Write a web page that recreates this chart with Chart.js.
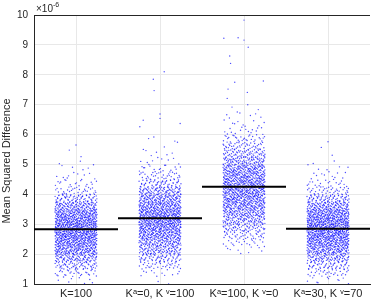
<!DOCTYPE html>
<html>
<head>
<meta charset="utf-8">
<script src="https://cdn.jsdelivr.net/npm/chart.js@4/dist/chart.umd.min.js"></script>
<style>
    html, body { margin: 0; padding: 0; background: #fff; }
</style>
</head>
<body>
<canvas id="grafica" width="374" height="303"></canvas>
<script>
// Categorias del eje x
const categorias = ['K=100', 'K\u1d43=0, K \u1d5b=100', 'K\u1d43=100, K \u1d5b=0', 'K\u1d43=30, K \u1d5b=70'];
// Media de cada grupo (linea negra)
const medias = [2.83, 3.2, 4.25, 2.85];
// Ticks del eje y (x10^-6)
const ticksY = [1, 2, 3, 4, 5, 6, 7, 8, 9, 10];

const anchoFranja = 0.25;
const inicioFranjas = 1.0;
const cuentas1 = [8, 30, 60, 90, 130, 150, 165, 165, 160, 140, 105, 65, 30, 18, 9, 5, 2];
const cuentas2 = [2, 12, 35, 60, 85, 105, 130, 145, 155, 150, 130, 110, 85, 55, 32, 18, 8, 5, 3, 3];
const cuentas3 = [0, 0, 0, 0, 8, 20, 40, 60, 85, 105, 120, 130, 135, 135, 125, 115, 85, 65, 45, 30, 15, 9, 6, 4];
const cuentas4 = [10, 30, 55, 85, 120, 145, 160, 165, 160, 145, 105, 70, 35, 20, 10, 6, 2];

// Puntos sueltos (valor y desplazamiento horizontal) leidos uno a uno
const sueltosY1 = [5.65, 5.48, 5.26];
const sueltosX1 = [0.0, -0.08, 0.06];
const sueltosY2 = [8.1, 7.85, 7.47, 6.69, 6.54, 6.48, 6.37, 6.26];
const sueltosX2 = [0.05, -0.08, -0.07, 0.0, 0.0, -0.2, 0.24, -0.24];
const sueltosY3 = [9.83, 9.24, 9.22, 9.16, 8.92, 8.63, 8.38, 7.79, 7.75, 7.52, 7.41, 7.21];
const sueltosX3 = [0.0, -0.07, -0.24, 0.0, 0.05, -0.17, -0.16, 0.23, -0.11, -0.19, 0.04, -0.2];
const sueltosY4 = [5.76, 5.57, 5.31];
const sueltosX4 = [0.0, -0.08, 0.05];

const todasCuentas = [cuentas1, cuentas2, cuentas3, cuentas4];
const todosSueltosY = [sueltosY1, sueltosY2, sueltosY3, sueltosY4];
const todosSueltosX = [sueltosX1, sueltosX2, sueltosX3, sueltosX4];

// Inverso radical (secuencia de Halton), reparte sin azar
const halton = (n, base) => {
    let f = 1, r = 0;
    while (n > 0) {
        f = f / base;
        r = r + f * (n % base);
        n = Math.floor(n / base);
    }
    return r;
};

const nube = () => {
    const puntos = [];
    for (let g = 0; g < categorias.length; g++) {
        const centro = g + 1;
        let n = 37 + g * 2311;
        const cuentas = todasCuentas[g];
        for (let b = 0; b < cuentas.length; b++) {
            const lo = inicioFranjas + b * anchoFranja;
            for (let i = 0; i < cuentas[b]; i++) {
                n++;
                puntos.push({
                    x: centro + (halton(n, 2) - 0.5) * 0.5,
                    y: lo + halton(n, 3) * anchoFranja
                });
            }
        }
        const sy = todosSueltosY[g];
        const sx = todosSueltosX[g];
        for (let i = 0; i < sy.length; i++) {
            puntos.push({ x: centro + sx[i], y: sy[i] });
        }
    }
    return puntos;
};

const lineasMedia = () => {
    const datos = [];
    medias.forEach((m, i) => {
        datos.push({ x: i + 0.5, y: m });
        datos.push({ x: i + 1.5, y: m });
        datos.push({ x: i + 1.5, y: null });
    });
    return datos;
};

const colorTexto = '#262626';

// Marco superior, etiqueta del eje y y exponente
const extras = {
    id: 'extras',
    afterDraw(chart) {
        const ctx = chart.ctx;
        const a = chart.chartArea;
        ctx.save();
        ctx.strokeStyle = colorTexto;
        ctx.lineWidth = 1;
        ctx.beginPath();
        ctx.moveTo(a.left, a.top + 0.5);
        ctx.lineTo(a.right, a.top + 0.5);
        ctx.stroke();

        ctx.fillStyle = colorTexto;
        ctx.font = '10px "Liberation Sans", Arial, sans-serif';
        ctx.textBaseline = 'alphabetic';
        ctx.textAlign = 'left';
        ctx.fillText('\u00d710', a.left + 2, 12);
        ctx.font = '7px "Liberation Sans", Arial, sans-serif';
        ctx.fillText('-6', a.left + 19, 7);

        ctx.font = '11px "Liberation Sans", Arial, sans-serif';
        ctx.textAlign = 'center';
        ctx.textBaseline = 'middle';
        ctx.translate(7, 161);
        ctx.rotate(-Math.PI / 2);
        ctx.fillText('Mean Squared Difference', 0, 0);
        ctx.restore();
    }
};

const generarGrafica = () => {
    const ctx = document.getElementById('grafica').getContext('2d');
    new Chart(ctx, {
        type: 'scatter',
        data: {
            datasets: [{
                data: lineasMedia(),
                type: 'line',
                borderColor: '#000',
                borderWidth: 2,
                pointRadius: 0,
                spanGaps: false,
                order: 0
            }, {
                data: nube(),
                backgroundColor: 'rgba(0, 0, 255, 0.7)',
                borderWidth: 0,
                pointRadius: 0.7,
                order: 1
            }]
        },
        options: {
            responsive: false,
            animation: false,
            layout: { padding: { top: 15, right: 0, left: 0, bottom: 0 } },
            plugins: {
                legend: { display: false },
                tooltip: { enabled: false }
            },
            scales: {
                x: {
                    type: 'linear',
                    min: 0.5,
                    max: 4.5,
                    afterBuildTicks: (scale) => {
                        scale.ticks = categorias.map((c, i) => ({ value: i + 1 }));
                    },
                    afterFit: (scale) => { scale.height = 19; },
                    ticks: {
                        autoSkip: false,
                        maxRotation: 0,
                        padding: 3,
                        color: colorTexto,
                        font: { family: '"Liberation Sans", Arial, sans-serif', size: 11 },
                        callback: (v) => categorias[v - 1] || ''
                    },
                    grid: { color: '#e8e8e8', drawTicks: false },
                    border: { color: colorTexto, width: 1 }
                },
                y: {
                    min: 1,
                    max: 10,
                    afterBuildTicks: (scale) => {
                        scale.ticks = ticksY.map(v => ({ value: v }));
                    },
                    afterFit: (scale) => { scale.width = 34; },
                    ticks: {
                        padding: 6,
                        color: colorTexto,
                        font: { family: '"Liberation Sans", Arial, sans-serif', size: 10 }
                    },
                    grid: { color: '#e8e8e8', drawTicks: false },
                    border: { color: colorTexto, width: 1 }
                }
            }
        },
        plugins: [extras]
    });
};

generarGrafica();
</script>
</body>
</html>
